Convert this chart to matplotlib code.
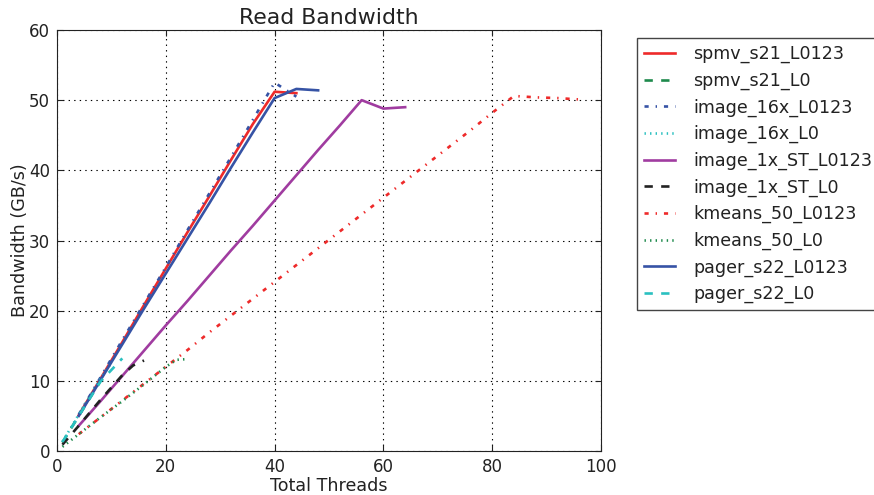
import matplotlib
matplotlib.use("Agg")
import matplotlib.pyplot as plt

# --- data ---
x_l0123_40 = [4, 8, 12, 16, 20, 24, 28, 32, 36, 40, 44]
spmv_s21_L0123 = [5.1, 10.3, 15.5, 20.8, 26.0, 31.2, 36.3, 41.5, 46.6, 51.2, 51.0]

x_spmv_l0 = [1, 2, 4, 8]
spmv_s21_L0 = [1.2, 2.5, 5.0, 10.0]

image_16x_L0123 = [5.2, 10.5, 15.8, 21.0, 26.2, 31.5, 36.7, 41.9, 47.2, 52.5, 50.5]

x_image16_l0 = [1, 2, 4, 8, 10]
image_16x_L0 = [1.3, 2.6, 5.2, 10.3, 12.6]

x_image1_l0123 = [4, 8, 12, 16, 20, 24, 28, 32, 36, 40, 44, 48, 52, 56, 60, 64]
image_1x_ST_L0123 = [3.6, 7.1, 10.7, 14.3, 17.9, 21.4, 25.0, 28.6, 32.1, 35.7,
                     39.3, 42.9, 46.4, 50.0, 48.8, 49.0]

x_image1_l0 = [1, 2, 4, 8, 12, 14, 16]
image_1x_ST_L0 = [0.9, 1.8, 3.6, 7.3, 10.8, 12.2, 12.9]

x_kmeans_l0123 = [4, 8, 12, 16, 20, 24, 28, 32, 36, 40, 44, 48, 52, 56, 60, 64,
                  68, 72, 76, 80, 84, 88, 92, 96]
kmeans_50_L0123 = [2.4, 4.8, 7.2, 9.6, 12.0, 14.4, 16.9, 19.3, 21.7, 24.1, 26.5,
                   28.9, 31.3, 33.7, 36.1, 38.5, 40.9, 43.3, 45.7, 48.2, 50.6,
                   50.4, 50.3, 50.1]

x_kmeans_l0 = [1, 2, 4, 8, 12, 16, 20, 22, 24]
kmeans_50_L0 = [0.6, 1.2, 2.4, 4.8, 7.1, 9.5, 12.0, 13.0, 13.1]

x_pager_l0123 = [4, 8, 12, 16, 20, 24, 28, 32, 36, 40, 44, 48]
pager_s22_L0123 = [5.0, 10.1, 15.2, 20.3, 25.3, 30.3, 35.3, 40.4, 45.4, 50.3, 51.6, 51.4]

x_pager_l0 = [1, 2, 4, 8, 12]
pager_s22_L0 = [1.3, 2.5, 5.0, 9.9, 13.2]

RED = "#ee2a2a"
GREEN = "#1e8a4c"
BLUE = "#3653a5"
CYAN = "#2ac0c0"
PURPLE = "#a03ca0"
BLACK = "#222222"

# old-style (classic) dash patterns, not scaled with line width
plt.rcParams["lines.scale_dashes"] = False
plt.rcParams["lines.dashed_pattern"] = [6, 6]
plt.rcParams["lines.dashdot_pattern"] = [3, 5, 1, 5]
plt.rcParams["lines.dotted_pattern"] = [1, 3]

fig = plt.figure(figsize=(8.74, 4.95), dpi=100)
ax = fig.add_axes([57 / 874, 1 - 451 / 495, 544 / 874, 421 / 495])

lw = 1.9
ax.plot(x_l0123_40, spmv_s21_L0123, color=RED, ls="-", lw=lw, label="spmv_s21_L0123")
ax.plot(x_spmv_l0, spmv_s21_L0, color=GREEN, ls="--", lw=lw, label="spmv_s21_L0")
ax.plot(x_l0123_40, image_16x_L0123, color=BLUE, ls="-.", lw=lw, label="image_16x_L0123")
ax.plot(x_image16_l0, image_16x_L0, color=CYAN, ls=":", lw=lw, label="image_16x_L0")
ax.plot(x_image1_l0123, image_1x_ST_L0123, color=PURPLE, ls="-", lw=lw, label="image_1x_ST_L0123")
ax.plot(x_image1_l0, image_1x_ST_L0, color=BLACK, ls="--", lw=lw, label="image_1x_ST_L0")
ax.plot(x_kmeans_l0123, kmeans_50_L0123, color=RED, ls="-.", lw=lw, label="kmeans_50_L0123")
ax.plot(x_kmeans_l0, kmeans_50_L0, color=GREEN, ls=":", lw=lw, label="kmeans_50_L0")
ax.plot(x_pager_l0123, pager_s22_L0123, color=BLUE, ls="-", lw=lw, label="pager_s22_L0123")
ax.plot(x_pager_l0, pager_s22_L0, color=CYAN, ls="--", lw=lw, label="pager_s22_L0")

ax.set_xlim(0, 100)
ax.set_ylim(0, 60)
ax.set_xticks(range(0, 101, 20))
ax.set_yticks(range(0, 61, 10))
ax.tick_params(direction="in", top=True, right=True, labelsize=12, length=4,
               colors="#222222", pad=5)
ax.grid(True, linestyle=(0, (1, 3)), color="k", linewidth=0.8)
for s in ax.spines.values():
    s.set_color("#222222")

ax.set_title("Read Bandwidth", fontsize=15.8, color="#222222", pad=4)
ax.set_xlabel("Total Threads", fontsize=12.6, color="#222222", labelpad=1)
ax.set_ylabel("Bandwidth (GB/s)", fontsize=12.6, color="#222222", labelpad=0)

leg = ax.legend(loc="upper left", bbox_to_anchor=(1.066, 0.981), borderaxespad=0,
                fontsize=12.6, labelspacing=0.48, handlelength=1.8,
                handletextpad=1.0, borderpad=0.4, fancybox=False, framealpha=1)
leg.get_frame().set_edgecolor("#444444")
for t in leg.get_texts():
    t.set_color("#222222")

fig.savefig("out.png", dpi=100)
